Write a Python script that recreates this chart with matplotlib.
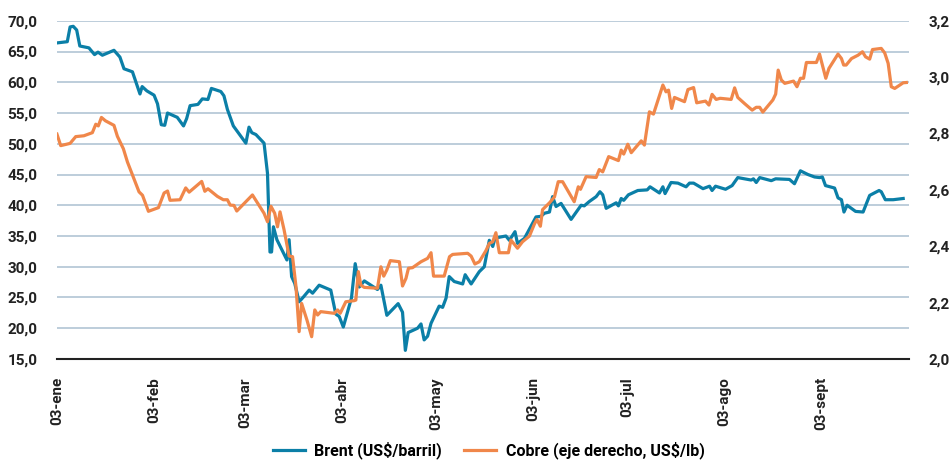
import pandas as pd
import matplotlib
matplotlib.use("Agg")
import matplotlib.pyplot as plt
from matplotlib.ticker import FuncFormatter

# days counted from 03-ene-2020
brent_day = [0, 3.3, 4.2, 5.2, 6.3, 7.3, 10.2, 12.0, 13.1, 14.5, 18.2, 20.1, 21.4, 24.1,
             26.5, 27.2, 28.7, 31.0, 32.1, 33.3, 34.4, 35.3, 38.4, 40.4, 41.4, 42.5, 45.0,
             46.4, 48.2, 49.3, 52.3, 53.3, 54.4, 56.3, 60.3, 61.3, 62.2, 63.5, 66.1, 67.2,
             68.0, 68.5, 69.1, 70.2, 73.4, 74.1, 74.9, 75.9, 77.3, 78.7, 80.5, 81.6, 83.7,
             87.4, 89.0, 90.1, 91.4, 94.0, 95.2, 96.5, 98.1, 102.3, 103.4, 105.3, 108.9,
             110.3, 111.2, 112.1, 115.1, 116.2, 117.2, 118.3, 119.4, 122.0, 123.1, 124.2,
             125.2, 126.8, 129.5, 130.3, 132.2, 134.8, 136.4, 138.0, 139.1, 139.8, 141.2,
             143.3, 144.4, 146.2, 147.0, 149.2, 151.1, 152.9, 154.5, 155.6, 157.2, 158.2,
             159.3, 160.9, 164.1, 167.3, 168.3, 169.9, 172.1, 173.3, 174.2, 175.3, 178.5,
             179.2, 180.1, 180.9, 182.4, 185.4, 188.4, 189.3, 192.3, 193.4, 194.1, 196.0,
             198.2, 200.8, 201.9, 203.2, 206.2, 208.3, 209.1, 210.2, 213.4, 215.5, 217.3,
             221.6, 222.3, 223.2, 224.3, 228.0, 229.4, 233.8, 235.4, 237.3, 239.7, 241.8,
             243.4, 244.3, 245.3, 248.2, 249.3, 250.4, 251.2, 252.2, 254.9, 257.3, 259.4,
             262.4, 263.1, 264.4, 266.9, 270.1]
brent = [66.4, 66.6, 69.0, 69.1, 68.5, 65.9, 65.6, 64.5, 64.9, 64.4, 65.2, 64.1, 62.2, 61.7,
         58.1, 59.3, 58.6, 57.9, 56.5, 53.1, 53.0, 55.0, 54.3, 52.9, 54.1, 56.2, 56.4,
         57.3, 57.2, 59.0, 58.5, 57.8, 55.6, 52.9, 50.1, 52.7, 51.8, 51.5, 50.1, 45.2,
         32.4, 32.4, 36.5, 34.4, 31.1, 34.4, 28.4, 27.3, 24.3, 25.1, 26.2, 25.7, 27.0,
         26.2, 22.3, 21.9, 20.2, 24.9, 30.5, 26.7, 27.7, 26.3, 27.0, 22.1, 24.0,
         22.6, 16.4, 19.3, 20.0, 20.7, 18.1, 18.7, 20.8, 23.6, 23.4, 24.9,
         28.4, 27.6, 27.2, 28.7, 27.2, 29.2, 30.0, 34.3, 33.3, 34.6, 34.8,
         35.0, 34.3, 35.7, 33.8, 34.6, 36.4, 38.1, 38.2, 38.7, 38.9, 41.4,
         39.8, 40.3, 37.7, 40.0, 39.9, 40.6, 41.4, 42.2, 41.7, 39.5, 40.4,
         39.9, 41.1, 40.8, 41.7, 42.4, 42.5, 43.0, 42.0, 43.0, 41.9, 43.7,
         43.6, 43.0, 43.6, 43.6, 42.7, 43.1, 42.4, 43.1, 42.6, 43.2, 44.5,
         44.1, 44.3, 43.7, 44.5, 44.0, 44.3, 44.2, 43.5, 45.6, 45.0, 44.6,
         44.5, 44.6, 43.2, 42.8, 41.2, 40.9, 38.9, 40.0, 39.0, 38.9, 41.6,
         42.4, 42.2, 40.9, 40.9, 41.1]

cobre_day = [0, 1.2, 4.2, 6.0, 8.6, 11.3, 12.4, 13.2, 14.2, 15.5, 18.2, 19.3, 21.2, 22.5,
             26.2, 27.3, 29.2, 32.4, 34.2, 35.3, 36.1, 39.3, 41.1, 42.2, 46.2, 47.2, 48.2,
             51.2, 53.1, 54.4, 55.3, 56.5, 57.4, 62.4, 66.1, 67.2, 68.3, 69.5, 70.4, 71.2,
             72.5, 74.1, 75.2, 76.3, 77.3, 78.1, 79.8, 81.3, 82.3, 83.2, 84.2, 88.5, 89.6,
             90.4, 92.2, 94.9, 95.4, 96.2, 97.0, 98.1, 102.3, 103.4, 104.3, 105.3, 106.4,
             109.3, 110.3, 111.4, 112.2, 113.5, 116.2, 118.3, 119.4, 120.2, 123.6, 125.3,
             126.3, 131.1, 132.2, 133.4, 134.8, 136.9, 138.0, 139.1, 140.1, 141.2, 144.1,
             144.9, 147.0, 148.6, 150.8, 152.4, 153.2, 154.3, 155.0, 157.2, 158.8, 160.0,
             161.4, 165.1, 166.4, 167.1, 168.9, 172.1, 173.1, 174.2, 176.1, 179.2, 180.1,
             180.9, 182.2, 183.3, 186.5, 187.5, 189.1, 190.4, 193.4, 194.4, 195.2, 196.2,
             197.1, 200.3, 201.4, 203.2, 204.2, 207.0, 208.1, 209.1, 210.4, 211.7, 215.2,
             216.3, 217.3, 219.5, 221.9, 223.2, 224.3, 225.3, 228.5, 229.4, 230.2, 231.2,
             232.3, 235.1, 236.2, 237.3, 238.3, 239.2, 242.4, 243.4, 245.4, 246.4, 249.3,
             250.4, 251.1, 251.9, 253.6, 255.7, 257.1, 258.1, 259.4, 260.3, 263.1, 264.2,
             265.3, 266.3, 267.4, 270.1, 271.1]
cobre = [2.798, 2.757, 2.765, 2.789, 2.792, 2.803, 2.833, 2.827, 2.857, 2.845, 2.829, 2.790,
         2.746, 2.699, 2.593, 2.581, 2.524, 2.537, 2.589, 2.596, 2.563, 2.565, 2.607, 2.592,
         2.630, 2.595, 2.604, 2.577, 2.565, 2.565, 2.546, 2.545, 2.525, 2.582, 2.517, 2.487,
         2.542, 2.517, 2.469, 2.522, 2.458, 2.365, 2.363, 2.256, 2.097, 2.197, 2.138, 2.079,
         2.174, 2.156, 2.168, 2.162, 2.174, 2.162, 2.203, 2.207, 2.209, 2.310, 2.262, 2.254,
         2.251, 2.327, 2.294, 2.316, 2.349, 2.345, 2.259, 2.286, 2.322, 2.324, 2.345, 2.357,
         2.377, 2.294, 2.294, 2.363, 2.371, 2.375, 2.365, 2.337, 2.345, 2.384, 2.410, 2.416,
         2.448, 2.377, 2.377, 2.422, 2.393, 2.416, 2.436, 2.479, 2.495, 2.471, 2.530, 2.554,
         2.575, 2.629, 2.629, 2.558, 2.611, 2.602, 2.647, 2.644, 2.672, 2.664, 2.718, 2.704,
         2.741, 2.727, 2.762, 2.732, 2.774, 2.759, 2.877, 2.869, 2.972, 2.948, 2.954, 2.889,
         2.928, 2.913, 2.956, 2.963, 2.909, 2.915, 2.901, 2.939, 2.921, 2.925, 2.921, 2.962,
         2.928, 2.906, 2.883, 2.893, 2.893, 2.876, 2.919, 2.940, 3.025, 2.990, 2.978, 2.986,
         2.966, 2.996, 2.996, 3.052, 3.052, 3.082, 2.996, 3.031, 3.082, 3.066, 3.043, 3.043,
         3.066, 3.078, 3.090, 3.072, 3.064, 3.098, 3.102, 3.086, 3.049, 2.966, 2.960, 2.980,
         2.981]

tick_dates = ["2020-01-03", "2020-02-03", "2020-03-03", "2020-04-03", "2020-05-03",
              "2020-06-03", "2020-07-03", "2020-08-03", "2020-09-03"]
tick_labels = ["03-ene", "03-feb", "03-mar", "03-abr", "03-may", "03-jun", "03-jul",
               "03-ago", "03-sept"]

BLUE = "#0b7fa7"
ORANGE = "#f0874a"
GRID = "#b7c9d8"

plt.rcParams["font.family"] = ["Roboto", "DejaVu Sans"]
plt.rcParams["font.weight"] = "bold"

start = pd.Timestamp("2020-01-03")
bx = start + pd.to_timedelta(brent_day, unit="D")
cx = start + pd.to_timedelta(cobre_day, unit="D")

fig = plt.figure(figsize=(9.49, 4.62), dpi=100)
ax = fig.add_axes([0.060, 0.223, 0.898, 0.732])
ax2 = ax.twinx()

l1, = ax.plot(bx, brent, color=BLUE, lw=2.3, label="Brent (US$/barril)")
l2, = ax2.plot(cx, cobre, color=ORANGE, lw=2.3, label="Cobre (eje derecho, US$/lb)")

ax.set_ylim(15, 70)
ax.set_yticks(range(15, 71, 5))
ax2.set_ylim(2.0, 3.2)
ax2.set_yticks([2.0, 2.2, 2.4, 2.6, 2.8, 3.0, 3.2])
ax.set_xlim(start, pd.Timestamp("2020-10-01"))

ax.yaxis.set_major_formatter(FuncFormatter(lambda v, p: f"{v:.1f}".replace(".", ",")))
ax2.yaxis.set_major_formatter(FuncFormatter(lambda v, p: f"{v:.1f}".replace(".", ",")))

ax.set_xticks(pd.to_datetime(tick_dates))
ax.set_xticklabels(tick_labels, rotation=90)

ax.grid(axis="y", color=GRID, lw=1.3)
ax.set_axisbelow(True)
for a in (ax, ax2):
    for s in ("top", "left", "right"):
        a.spines[s].set_visible(False)
ax.spines["bottom"].set_color("#222222")
ax.spines["bottom"].set_linewidth(1.5)
ax2.spines["bottom"].set_visible(False)

ax.tick_params(axis="y", length=0, pad=14, labelsize=11, labelcolor="#222222")
ax2.tick_params(axis="y", length=0, pad=14, labelsize=11, labelcolor="#222222")
ax.tick_params(axis="x", length=0, pad=13, labelsize=11, labelcolor="#222222")

fig.legend(handles=[l1, l2], loc="lower center", bbox_to_anchor=(0.515, -0.025), ncol=2,
           frameon=False, fontsize=11.5, handlelength=2.0, handletextpad=0.6,
           columnspacing=1.4)

fig.savefig("out.png", dpi=100)
